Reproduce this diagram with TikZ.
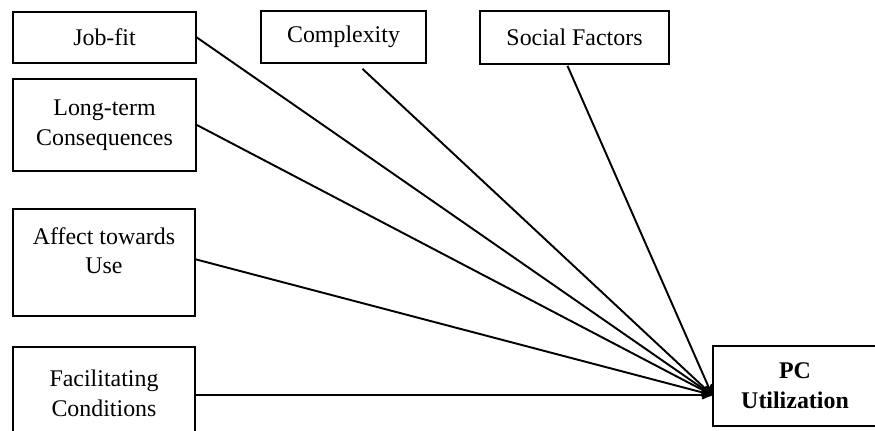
\documentclass[tikz,border=0pt]{standalone}
\usepackage{fontspec}
\setmainfont{Liberation Serif}
\usepackage{tikz}
\usetikzlibrary{arrows}
\tikzset{>=stealth'}
\tikzset{factor/.style={draw,line width=1pt,align=center,inner sep=0pt,
  font=\fontsize{13.6}{17}\selectfont},
  link/.style={->,line width=1.1pt}}

\begin{document}
\begin{tikzpicture}
\useasboundingbox (0,0) rectangle (17.5,8.6);
% factors
\node[factor,minimum width=3.66cm,minimum height=1.02cm] (jobfit) at (2.09,7.85) {Job-fit};
\node[factor,minimum width=3.30cm,minimum height=1.04cm] (complexity) at (6.87,7.86) {Complexity};
\node[factor,minimum width=3.78cm,minimum height=1.06cm] (social) at (11.49,7.85) {Social Factors};
\node[factor,minimum width=3.66cm,minimum height=1.84cm] (longterm) at (2.09,6.10) {Long-term\\Consequences};
\node[factor,minimum width=3.64cm,text height=1.30cm,text depth=0.84cm,anchor=north] (affect) at (2.08,4.44) {Affect towards\\Use};
\node[factor,minimum width=3.64cm,minimum height=1.84cm] (facil) at (2.08,0.74) {Facilitating\\Conditions};
% outcome
\node[factor,minimum width=3.28cm,minimum height=1.60cm,font=\fontsize{13.6}{17}\selectfont\bfseries] (pc) at (15.90,0.88) {PC\\Utilization};
\coordinate (hub) at ([yshift=-0.18cm]pc.west);
\draw[link] (jobfit.east) -- (hub);
\draw[link] ([xshift=0.38cm,yshift=-0.1cm]complexity.south) -- (hub);
\draw[link] ([xshift=-0.14cm,yshift=-0.02cm]social.south) -- (hub);
\draw[link] (longterm.east) -- (hub);
\draw[link] ([yshift=0.06cm]affect.east) -- (hub);
\draw[link] (facil.east|-hub) -- (hub);
\end{tikzpicture}
\end{document}
